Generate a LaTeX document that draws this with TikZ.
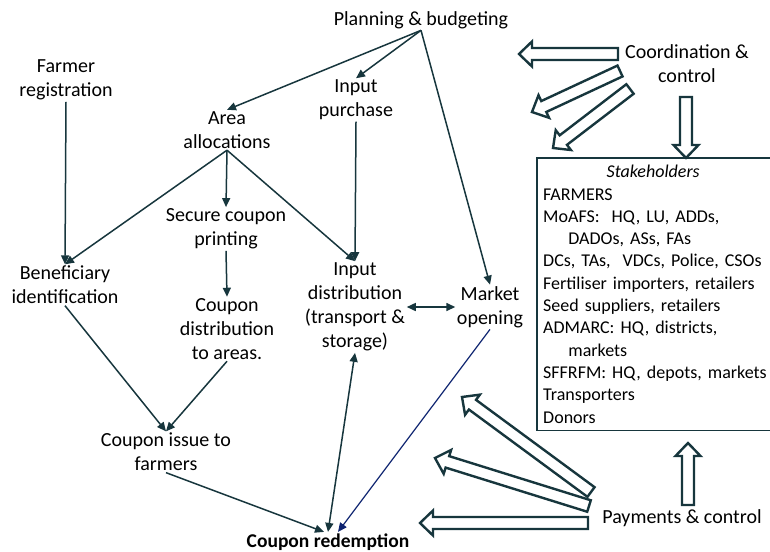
\documentclass[tikz,border=0pt]{standalone}
\usepackage{fontspec}
\setmainfont{Carlito}
\usetikzlibrary{arrows.meta,calc}
\definecolor{linecol}{HTML}{17363D}
\definecolor{navycol}{HTML}{0D2370}

% hollow block arrow from tail #1 to tip #2
\newcommand{\hollowarrow}[2]{%
  \draw[bigarrow] ($(#1)!6pt!90:(#2)$) -- ($($(#2)!13pt!(#1)$)!6pt!90:(#2)$)
    -- ($($(#2)!13pt!(#1)$)!12.5pt!90:(#2)$) -- (#2)
    -- ($($(#2)!13pt!(#1)$)!12.5pt!-90:(#2)$) -- ($($(#2)!13pt!(#1)$)!6pt!-90:(#2)$)
    -- ($(#1)!6pt!-90:(#2)$) -- cycle;
}

\begin{document}
\begin{tikzpicture}[
        x=1pt, y=-1pt,
        proc/.style={align=center, inner sep=1.5pt, font=\fontsize{20}{24}\selectfont},
        flow/.style={-{Triangle[length=9pt,width=8pt]}, linecol, line width=1.5pt},
        bigarrow/.style={draw=linecol, line width=2.4pt, fill=white, line join=miter}
    ]
        \useasboundingbox (0,0) rectangle (770,551);

        % Steps
        \node[proc] (plan) at (421,20) {Planning \& budgeting};
        \node[proc] (farm) at (66,80) {Farmer\\registration};
        \node[proc] (inpur) at (356,100) {Input\\purchase};
        \node[proc] (area) at (227,130) {Area\\allocations};
        \node[proc] (secure) at (226,229) {Secure coupon\\printing};
        \node[proc] (benef) at (65,285) {Beneficiary\\identification};
        \node[proc] (indist) at (355,307) {Input\\distribution\\(transport \&\\storage)};
        \node[proc] (market) at (490,307) {Market\\opening};
        \node[proc] (coupdist) at (227,329) {Coupon\\distribution\\to areas.};
        \node[proc] (issue) at (166,452) {Coupon issue to\\farmers};
        \node[proc, font=\fontsize{19.5}{23}\selectfont\bfseries] (redeem) at (328,542) {Coupon redemption};
        \node[proc] (coord) at (687,64) {Coordination \&\\control};
        \node[proc] (pay) at (682,518) {Payments \& control};

        % Stakeholders box
        \node[anchor=north west, align=left, text width=220pt, inner sep=6pt,
              minimum height=272pt, font=\fontsize{18}{22.3}\selectfont] (stake) at (537,158)
            {\makebox[\linewidth][c]{\itshape Stakeholders}\\
             FARMERS\\
             MoAFS:\ \ HQ, LU, ADDs,\\
             \hspace*{1.4em}DADOs, ASs, FAs\\
             DCs, TAs,\ \ VDCs, Police, CSOs\\
             Fertiliser importers, retailers\\
             Seed suppliers, retailers\\
             ADMARC: HQ, districts,\\
             \hspace*{1.4em}markets\\
             \makebox[0pt][l]{SFFRFM: HQ, depots, markets}\\
             Transporters\\
             Donors};
        \draw[linecol, line width=1.8pt] ([xshift=40pt]stake.north east) -- (stake.north west)
            -- (stake.south west) -- ([xshift=40pt]stake.south east);

        % Connections
        \draw[flow] (plan.south) -- (area.north);
        \draw[flow] (plan.south) -- (inpur.north);
        \draw[flow] (plan.south) -- (market.north);
        \draw[flow] (farm.south) -- (benef.north);
        \draw[flow] (area.south) -- (benef.north);
        \draw[flow] (area.south) -- (secure.north);
        \draw[flow] (area.south) -- (indist.north);
        \draw[flow] (inpur.south) -- (indist.north);
        \draw[flow] (secure.south) -- (coupdist.north);
        \draw[flow] (benef.south) -- (issue.north);
        \draw[flow] (coupdist.south) -- (issue.north);
        \draw[flow] (issue.south) -- ([xshift=-4pt]redeem.north);
        \draw[flow, {Triangle[length=9pt,width=8pt]}-{Triangle[length=9pt,width=8pt]}] (indist.south) -- (redeem.north);
        \draw[flow, {Triangle[length=9pt,width=8pt]}-{Triangle[length=9pt,width=8pt]}] (indist.east) -- (market.west);
        \draw[flow, navycol, line width=1.2pt] (market.south) -- ([xshift=10pt]redeem.north);

        % Block arrows
        \coordinate (ca-tail) at (618,54);   \coordinate (ca-tip) at (519,54);
        \coordinate (cb-tail) at (620,71);   \coordinate (cb-tip) at (532,112);
        \coordinate (cc-tail) at (630,89);   \coordinate (cc-tip) at (553,148);
        \coordinate (cd-tail) at (686,97);   \coordinate (cd-tip) at (686,158);
        \coordinate (pa-tail) at (688,505);  \coordinate (pa-tip) at (688,443);
        \coordinate (pb-tail) at (588,523);  \coordinate (pb-tip) at (420,523);
        \coordinate (pc-tail) at (589,506);  \coordinate (pc-tip) at (435,458);
        \coordinate (pd-tail) at (591,492);  \coordinate (pd-tip) at (462,397);
        \foreach \a in {ca,cb,cc,cd,pa,pb,pc,pd} {
            \hollowarrow{\a-tail}{\a-tip}
        }
    \end{tikzpicture}
\end{document}
